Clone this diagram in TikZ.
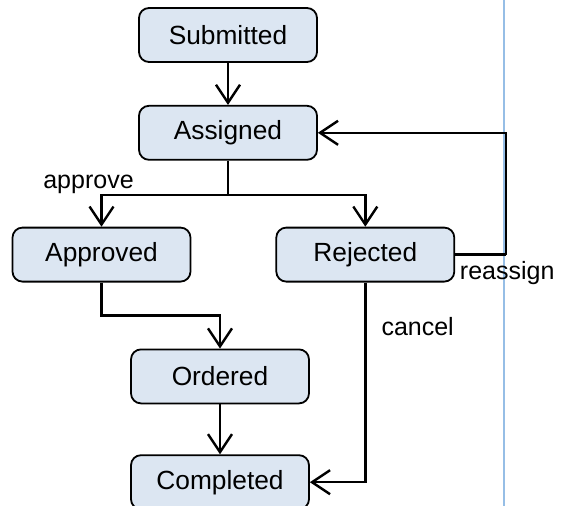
\documentclass[tikz,border=0pt]{standalone}
\usepackage{fontspec}
\setmainfont{Liberation Sans}
\usetikzlibrary{positioning,arrows.meta}

\definecolor{statefill}{RGB}{220,230,242}
\definecolor{laneblue}{RGB}{150,190,230}

\tikzset{
  state/.style={draw=black, fill=statefill, line width=1.8pt, rounded corners=10pt,
    minimum width=178pt, minimum height=54pt, inner sep=0pt,
    font=\fontsize{26.3}{31}\selectfont},
  flow/.style={line width=2.4pt, -{Straight Barb[length=18pt,width=24pt,line width=2.4pt]}},
  tag/.style={font=\fontsize{25}{30}\selectfont, inner sep=0pt}
}

\begin{document}
\begin{tikzpicture}[x=1pt,y=-1pt]
\useasboundingbox (0,0) rectangle (566,506);
\draw[laneblue, line width=2.8pt] (504,0) -- (504,506);

\node[state] (submitted) at (228,35) {Submitted};
\node[state, below=42pt of submitted] (assigned) {Assigned};
\node[state, below=66pt of assigned, xshift=-126.5pt] (approved) {Approved};
\node[state, right=84pt of approved] (rejected) {Rejected};
\node[state, below=66pt of approved, xshift=118.5pt] (ordered) {Ordered};
\node[state, below=50pt of ordered] (completed) {Completed};

\coordinate[below=34pt of assigned.south] (split);
\coordinate[below=33pt of approved.south] (bend);
\coordinate[right=51pt of rejected.east] (back);

\draw[flow] (submitted) -- (assigned);
\draw[line width=2.4pt] (assigned) -- (split);
\draw[flow] (split) -| node[tag, above, xshift=-13pt]{approve} (approved);
\draw[flow] (split) -| (rejected);
\draw[line width=2.4pt] (rejected) -- (back) node[tag, below=6pt, xshift=1pt]{reassign};
\draw[flow] (back) |- (assigned);
\draw[flow] (approved) -- (bend) -| (ordered);
\draw[flow] (ordered) -- (completed);
\draw[flow] (rejected) |- node[tag, pos=0.11, anchor=west, xshift=15pt]{cancel} (completed);
\end{tikzpicture}
\end{document}
